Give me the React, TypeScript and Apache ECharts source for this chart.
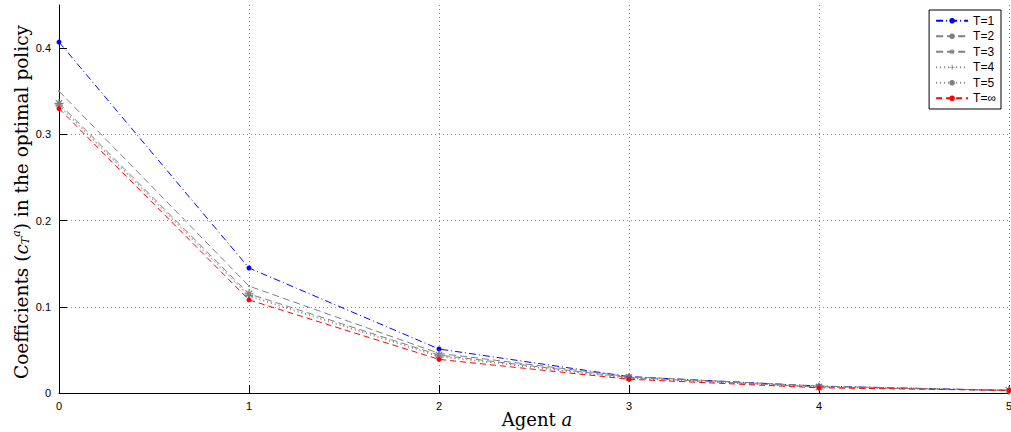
import React, { useEffect, useRef } from "react";
import * as echarts from "echarts";

const agents = [0, 1, 2, 3, 4, 5];
const seriesNames = ["T=1", "T=2", "T=3", "T=4", "T=5", "T=\u221e"];
const t1 = [0.407, 0.145, 0.051, 0.019, 0.008, 0.003];
const t2 = [0.35, 0.124, 0.046, 0.019, 0.008, 0.003];
const t3 = [0.336, 0.115, 0.044, 0.018, 0.007, 0.003];
const t4 = [0.334, 0.113, 0.043, 0.017, 0.007, 0.003];
const t5 = [0.333, 0.112, 0.042, 0.017, 0.007, 0.003];
const tInf = [0.33, 0.108, 0.039, 0.016, 0.006, 0.003];
const yTicks = [0, 0.1, 0.2, 0.3, 0.4];

function barPath(angleDeg: number, len: number, w: number): string {
  const a = (angleDeg * Math.PI) / 180;
  const dx = Math.cos(a), dy = Math.sin(a);
  const nx = -dy, ny = dx;
  const h = len / 2, hw = w / 2;
  const p = [
    [dx * h + nx * hw, dy * h + ny * hw],
    [dx * h - nx * hw, dy * h - ny * hw],
    [-dx * h - nx * hw, -dy * h - ny * hw],
    [-dx * h + nx * hw, -dy * h + ny * hw],
  ].map(([x, y]) => [(x + 6).toFixed(3), (y + 6).toFixed(3)]);
  return `M${p[0][0]} ${p[0][1]}L${p[1][0]} ${p[1][1]}L${p[2][0]} ${p[2][1]}L${p[3][0]} ${p[3][1]}Z`;
}
const starSymbol = "path://" + [0, 45, 90, 135].map((a) => barPath(a, 12, 1.6)).join("");
const plusSymbol = "path://" + [0, 90].map((a) => barPath(a, 12, 1.4)).join("");

const serif = "DejaVu Serif, serif";

export default function App() {
  const ref = useRef<HTMLDivElement>(null);
  useEffect(() => {
    if (!ref.current) return;
    const chart = echarts.init(ref.current, null, { renderer: "svg" });
    const mk = (vals: number[]) => agents.map((a, i) => [a, vals[i]]);
    const gray = "#7f7f7f";
    const series: any[] = [
      {
        name: seriesNames[0], data: mk(t1), color: "#0000ff",
        lineStyle: { color: "#0000ff", width: 1, type: [7, 3, 1, 3] },
        symbol: "circle", symbolSize: 5, itemStyle: { color: "#0000ff" },
      },
      {
        name: seriesNames[1], data: mk(t2), color: gray,
        lineStyle: { color: gray, width: 1, type: [7, 4] },
        symbol: "circle", symbolSize: 2, itemStyle: { color: gray },
      },
      {
        name: seriesNames[2], data: mk(t3), color: gray,
        lineStyle: { color: gray, width: 1, type: [7, 4] },
        symbol: starSymbol, symbolSize: 9, itemStyle: { color: gray },
      },
      {
        name: seriesNames[3], data: mk(t4), color: gray,
        lineStyle: { color: gray, width: 1, type: [1, 3] },
        symbol: plusSymbol, symbolSize: 8, itemStyle: { color: gray },
      },
      {
        name: seriesNames[4], data: mk(t5), color: gray,
        lineStyle: { color: gray, width: 1, type: [1, 3] },
        symbol: "circle", symbolSize: 2.5, itemStyle: { color: gray },
      },
      {
        name: seriesNames[5], data: mk(tInf), color: "#ff0000",
        lineStyle: { color: "#ff0000", width: 1, type: [6, 4] },
        symbol: "circle", symbolSize: 5, itemStyle: { color: "#ff0000" },
      },
    ].map((s) => ({ ...s, type: "line", showSymbol: true, z: 3 }));

    chart.setOption({
      animation: false,
      backgroundColor: "#ffffff",
      grid: { left: 59, right: 2, top: 5, bottom: 39, containLabel: false, outerBoundsMode: "none" },
      legend: {
        orient: "vertical",
        right: 10,
        top: 10,
        backgroundColor: "#ffffff",
        borderColor: "#000000",
        borderWidth: 1,
        borderRadius: 0,
        padding: [4, 5, 4, 6],
        itemWidth: 32,
        itemHeight: 7,
        itemGap: 2,
        textStyle: { fontFamily: "Liberation Sans, Arial, sans-serif", fontSize: 12, color: "#000", lineHeight: 13.5 },
        data: seriesNames,
      },
      graphic: [
        {
          type: "text",
          x: 537,
          y: 419,
          style: {
            text: "{n|Agent }{i|a}",
            align: "center",
            verticalAlign: "middle",
            rich: {
              n: { fontFamily: serif, fontSize: 18, fill: "#000" },
              i: { fontFamily: serif, fontStyle: "italic", fontSize: 18, fill: "#000" },
            },
          },
        },
        {
          type: "text",
          x: 21,
          y: 202,
          rotation: Math.PI / 2,
          style: {
            text: "{n|Coefficients (}{i|c}{s|T}{p|a}{n|) in the optimal policy}",
            align: "center",
            verticalAlign: "middle",
            rich: {
              n: { fontFamily: serif, fontSize: 18.5, fill: "#000", lineHeight: 26, verticalAlign: "middle" },
              i: { fontFamily: serif, fontStyle: "italic", fontSize: 18.5, fill: "#000", lineHeight: 26, verticalAlign: "middle" },
              s: { fontFamily: serif, fontStyle: "italic", fontSize: 11, fill: "#000", verticalAlign: "bottom", lineHeight: 26, padding: [0, 0, 3, 0] },
              p: { fontFamily: serif, fontStyle: "italic", fontSize: 11, fill: "#000", verticalAlign: "top", lineHeight: 26, padding: [3, 0, 0, 0] },
            },
          },
        },
      ],
      xAxis: {
        type: "value",
        min: 0,
        max: 5,
        interval: 1,
        axisLine: { show: true, onZero: false, lineStyle: { color: "#000", width: 1 } },
        axisTick: { show: true, inside: true, length: 8, lineStyle: { color: "#000" } },
        axisLabel: { fontFamily: "Liberation Sans, Arial, sans-serif", fontSize: 11, color: "#000", margin: 7 },
        splitLine: { show: true, lineStyle: { color: "#8c8c8c", width: 1, type: [1, 3] } },
      },
      yAxis: {
        type: "value",
        min: 0,
        max: 0.45,
        interval: 0.1,
        axisLine: { show: true, lineStyle: { color: "#000", width: 1 } },
        axisTick: { show: true, inside: true, length: 8, lineStyle: { color: "#000" }, customValues: yTicks },
        axisLabel: {
          fontFamily: "Liberation Sans, Arial, sans-serif",
          fontSize: 11,
          color: "#000",
          margin: 8,
          customValues: yTicks,
          formatter: (v: number) => (v > 0.41 ? "" : v === 0 ? "0" : String(Math.round(v * 10) / 10)),
        },
        splitLine: { show: true, showMaxLine: false, lineStyle: { color: "#8c8c8c", width: 1, type: [1, 3] } },
      },
      series,
    });
    return () => chart.dispose();
  }, []);
  return (
    <div
      ref={ref}
      style={{ position: "fixed", left: 0, top: 0, width: 1011, height: 432, background: "#fff" }}
    />
  );
}
